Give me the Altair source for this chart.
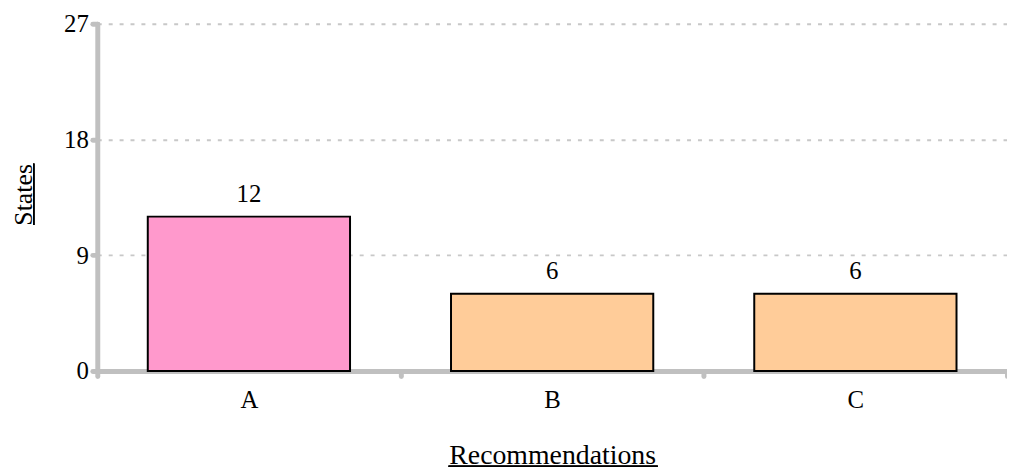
import altair as alt
import pandas as pd

categories = ["A", "B", "C"]
values = [12, 6, 6]
colors = ["#FF99CC", "#FFCC99", "#FFCC99"]
y_ticks = [0, 9, 18, 27]

df = pd.DataFrame({"cat": categories, "val": values, "color": colors})

W, H = 917, 350
FONT = "Liberation Serif, Times New Roman, serif"

base = alt.Chart(df)

bars = base.mark_bar(width={"band": 0.667}, stroke="black", strokeWidth=2).encode(
    x=alt.X("cat:N", title="Recommendations", sort=categories,
            scale=alt.Scale(paddingInner=0, paddingOuter=0),
            axis=alt.Axis(labelAngle=0, tickBand="extent", grid=False,
                          labelPadding=12, titlePadding=29, titleFontSize=28)),
    y=alt.Y("val:Q", title="States",
            scale=alt.Scale(domain=[0, 27], nice=False),
            axis=alt.Axis(values=y_ticks, grid=True, gridDash=[4, 7],
                          gridColor="#c8c8c8", gridWidth=2,
                          labelPadding=4, titlePadding=27, titleFontSize=26,
                          titleY=172)),
    color=alt.Color("color:N", scale=None),
)

labels = base.mark_text(baseline="alphabetic", dy=-15, fontSize=25, font=FONT, color="black").encode(
    x=alt.X("cat:N", sort=categories),
    y="val:Q",
    text="val:Q",
)

underline_x = base.mark_rule(color="black", strokeWidth=1.5).encode(
    x=alt.value(354), x2=alt.value(565), y=alt.value(446)
)
underline_y = base.mark_rule(color="black", strokeWidth=1.5).encode(
    x=alt.value(-64), y=alt.value(141), y2=alt.value(203)
)

chart = alt.layer(bars, labels, underline_x, underline_y).properties(
    width=W, height=H,
    padding={"left": 90, "top": 14, "right": 0, "bottom": 99},
    autosize=alt.AutoSizeParams(type="none"),
).configure(font=FONT).configure_view(stroke=None).configure_axis(
    domainColor="#c0c0c0", domainWidth=5, domainCap="round",
    tickColor="#c0c0c0", tickWidth=5, tickSize=5, tickCap="round",
    labelFont=FONT, labelFontSize=25, labelColor="black",
    titleFont=FONT, titleFontWeight="normal", titleColor="black",
)

chart.save("out.html", embed_options={"renderer": "svg", "actions": False})
